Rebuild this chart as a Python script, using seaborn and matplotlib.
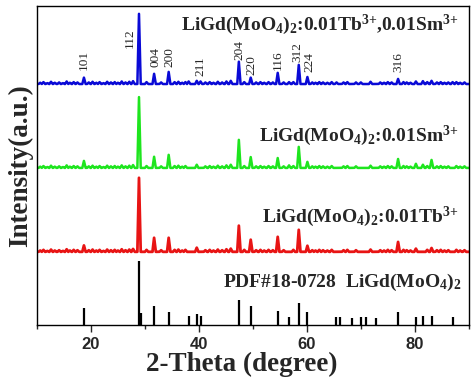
import numpy as np
import matplotlib
matplotlib.use("Agg")
import matplotlib.pyplot as plt
import seaborn as sns
from matplotlib.ticker import MultipleLocator

# XRD peaks: 2-theta position and height (axis units)
blue_pos = [18.7, 28.9, 31.7, 34.4, 38.1, 39.6, 40.3, 47.4, 49.6, 54.6, 56.7, 58.5, 60.1,
            65.5, 70.0, 76.9, 80.2, 81.5, 83.1, 87.0]
blue_h = [2.0, 22.0, 3.2, 3.8, 0.8, 1.0, 0.8, 7.0, 2.0, 3.5, 0.6, 6.0, 2.2,
          0.5, 0.5, 1.6, 0.8, 0.9, 1.0, 0.6]
green_pos = [18.7, 28.9, 31.7, 34.4, 39.6, 47.4, 49.6, 54.6, 56.7, 58.5, 60.1,
             76.9, 80.2, 81.5, 83.1]
green_h = [2.2, 22.2, 3.5, 4.1, 1.0, 8.8, 3.4, 3.1, 0.8, 6.6, 1.9,
           2.8, 1.3, 1.0, 2.5]
red_pos = [18.7, 28.9, 31.7, 34.4, 39.6, 47.4, 49.6, 54.6, 58.5, 60.1,
           76.9, 80.2, 83.1]
red_h = [2.0, 23.2, 4.4, 4.4, 1.3, 8.2, 3.8, 4.7, 6.9, 1.9,
         3.1, 1.0, 1.2]

# small baseline wiggles (position, height)
noise_pos = [10.6, 11.2, 11.9, 12.6, 13.3, 14.1, 14.8, 15.5, 16.1, 16.8, 17.5,
             19.6, 20.3, 21.0, 21.6, 22.3, 23.0, 23.7, 24.4, 25.0, 25.7, 26.4, 27.1, 27.8,
             30.3, 33.0, 35.5, 36.2, 36.9, 37.5, 41.2, 42.0, 42.7, 43.5, 44.3, 45.1, 45.9,
             48.4, 50.6, 51.4, 52.1, 52.9, 53.7, 55.7, 57.5, 61.0, 61.6, 62.3, 63.0,
             63.8, 64.6, 66.8, 67.5, 69.1, 71.8, 73.6, 74.3, 75.0, 75.7, 77.9, 78.5,
             79.2, 82.3, 84.1, 84.8, 85.5, 86.2, 87.7, 88.4, 89.2]
noise_h = [0.4, 0.6, 0.3, 0.7, 0.4, 0.5, 0.3, 0.8, 0.4, 0.6, 0.5,
           0.5, 0.7, 0.4, 0.6, 0.3, 0.7, 0.5, 0.6, 0.4, 0.8, 0.5, 0.7, 0.9,
           0.6, 0.5, 0.6, 0.7, 0.4, 0.6, 0.5, 0.6, 0.4, 0.7, 0.5, 0.8, 1.0,
           0.6, 0.5, 0.6, 0.4, 0.6, 0.5, 0.5, 0.6, 0.5, 0.4, 0.6, 0.5,
           0.4, 0.6, 0.5, 0.6, 0.5, 0.7, 0.5, 0.4, 0.6, 0.5, 0.6, 0.5,
           0.4, 0.6, 0.5, 0.6, 0.4, 0.5, 0.6, 0.4, 0.5]

# PDF#18-0728 reference lines
ref_pos = [18.7, 28.9, 29.2, 31.7, 34.4, 38.1, 39.6, 40.3, 47.4, 49.6, 54.6, 56.7,
           58.5, 60.1, 65.4, 66.1, 68.3, 70.0, 70.9, 72.8, 76.9, 80.2, 81.5, 83.1, 87.0]
ref_h = [5.3, 20.0, 3.8, 6.0, 4.1, 2.8, 3.4, 2.8, 7.8, 6.0, 4.4, 2.5,
         6.9, 4.1, 2.5, 2.5, 2.2, 2.5, 2.5, 2.2, 4.1, 2.5, 2.8, 2.8, 2.5]

offsets = {"blue": 75.5, "green": 49.2, "red": 22.9}

hkl_labels = ["101", "112", "004", "200", "211", "204", "220", "116", "312", "224", "316"]
hkl_x = [18.7, 27.2, 31.9, 34.6, 40.2, 47.6, 49.8, 54.6, 58.3, 60.5, 76.9]
hkl_y = [79.9, 86.8, 80.9, 80.9, 78.1, 83.1, 78.4, 79.9, 82.4, 79.3, 79.3]


def profile(x, pos, h, w=0.3):
    y = np.zeros_like(x)
    for p, hh in zip(list(pos) + noise_pos, list(h) + noise_h):
        y = np.maximum(y, hh * np.clip(1 - np.abs(x - p) / w, 0, None))
    return y


sns.set_style("white")
plt.rcParams["font.family"] = ["Liberation Serif", "DejaVu Serif"]
plt.rcParams["mathtext.fontset"] = "custom"
plt.rcParams["mathtext.rm"] = "Liberation Serif:bold"
plt.rcParams["mathtext.bf"] = "Liberation Serif:bold"
plt.rcParams["mathtext.default"] = "rm"

fig, ax = plt.subplots(figsize=(4.74, 3.9), dpi=100)
fig.subplots_adjust(left=0.078, right=0.989, bottom=0.167, top=0.985)

x = np.linspace(10, 90, 4001)
for name, pos, h, col, lw in [("blue", blue_pos, blue_h, "#0a0ad6", 1.8),
                               ("green", green_pos, green_h, "#1ee51e", 1.8),
                               ("red", red_pos, red_h, "#e81414", 2.0)]:
    sns.lineplot(x=x, y=profile(x, pos, h) + offsets[name], ax=ax, color=col,
                 linewidth=lw, estimator=None)

ax.vlines(ref_pos, 0, ref_h, color="black", linewidth=1.6)

for lab, xx, yy in zip(hkl_labels, hkl_x, hkl_y):
    ax.text(xx, yy, lab, rotation=90, ha="center", va="bottom", fontsize=9.5)

bold = dict(fontsize=14, fontweight="bold", ha="right", va="baseline")
ax.text(88, 92.5, r"LiGd(MoO$_4$)$_2$:0.01Tb$^{3{+}}$,0.01Sm$^{3{+}}$", **bold)
ax.text(88, 57.7, r"LiGd(MoO$_4$)$_2$:0.01Sm$^{3{+}}$", **bold)
ax.text(88, 32.3, r"LiGd(MoO$_4$)$_2$:0.01Tb$^{3{+}}$", **bold)
ax.text(88.6, 11.9, r"PDF#18-0728  LiGd(MoO$_4$)$_2$", **bold)

ax.set_xlim(10, 90)
ax.set_ylim(0, 100)
ax.set_yticks([])
ax.xaxis.set_major_locator(MultipleLocator(20))
ax.xaxis.set_minor_locator(MultipleLocator(10))
ax.tick_params(axis="x", which="major", direction="out", length=5, width=1,
               bottom=True, labelsize=12)
ax.tick_params(axis="x", which="minor", direction="out", length=3, width=1, bottom=True)
for lab in ax.get_xticklabels():
    lab.set_family("Liberation Sans")
    lab.set_fontweight("bold")
for sp in ax.spines.values():
    sp.set_linewidth(1)
    sp.set_color("black")

ax.set_xlabel("2-Theta (degree)", fontsize=19.5, fontweight="bold", labelpad=1)
ax.xaxis.set_label_coords(0.475, -0.085, transform=ax.transAxes)
ax.xaxis.label.set_va("top")
ax.set_ylabel("Intensity(a.u.)", fontsize=19.5, fontweight="bold", labelpad=3)

fig.savefig("out.png", dpi=100)
